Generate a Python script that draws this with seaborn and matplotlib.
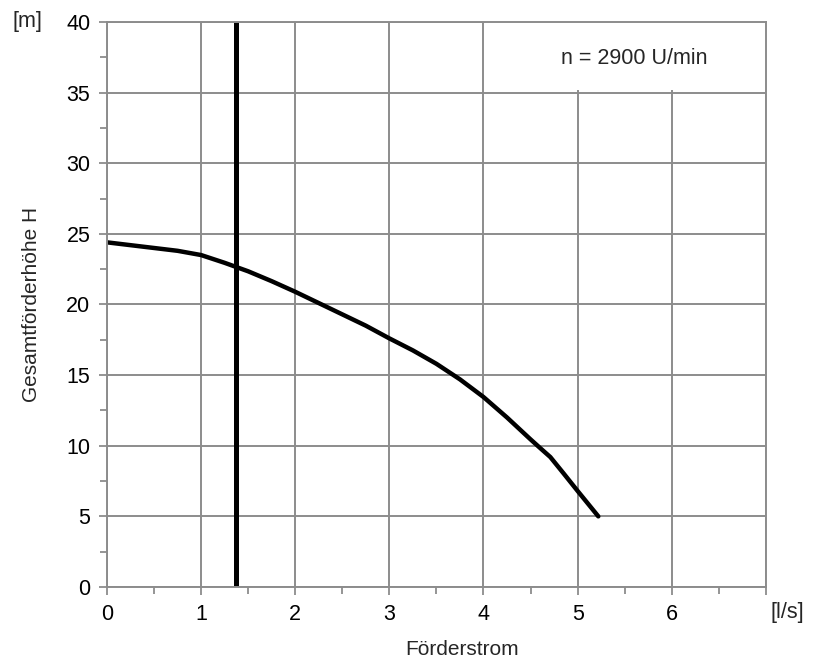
import matplotlib
matplotlib.use("Agg")
import matplotlib.pyplot as plt
import seaborn as sns
from matplotlib.patches import Rectangle
from matplotlib.ticker import MultipleLocator

# --- data ---
flow = [0.0, 0.25, 0.5, 0.75, 1.0, 1.25, 1.5, 1.75, 2.0, 2.25, 2.5, 2.75,
        3.0, 3.25, 3.5, 3.75, 4.0, 4.25, 4.5, 4.6, 4.71, 4.85, 5.0, 5.22]
head = [24.4, 24.2, 24.0, 23.8, 23.5, 22.95, 22.35, 21.65, 20.9, 20.1, 19.3, 18.5,
        17.6, 16.75, 15.8, 14.7, 13.45, 12.0, 10.45, 9.85, 9.2, 8.05, 6.8, 5.0]
operating_flow = 1.37
x_ticks = [0, 1, 2, 3, 4, 5, 6]
y_ticks = [0, 5, 10, 15, 20, 25, 30, 35, 40]
speed_label = "n = 2900 U/min"

sns.set_theme(style="white")
plt.rcParams["font.family"] = ["Liberation Sans", "DejaVu Sans"]

grid_col = "#8c8c8c"
fig = plt.figure(figsize=(8.26, 6.6), dpi=100)
ax = fig.add_axes([0.1295, 0.1106, 0.7977, 0.8561])

sns.lineplot(x=flow, y=head, color="black", linewidth=3.2, sort=False, ax=ax,
             solid_capstyle="round", solid_joinstyle="round")
ax.axvline(operating_flow, color="black", linewidth=3.6, solid_capstyle="round")

ax.set_xlim(0, 7)
ax.set_ylim(0, 40)
ax.set_xticks(range(0, 8))
ax.set_xticklabels([str(t) for t in x_ticks] + [""])
ax.set_yticks(y_ticks)
ax.set_yticklabels([str(t) for t in y_ticks])
ax.xaxis.set_minor_locator(MultipleLocator(0.5))
ax.yaxis.set_minor_locator(MultipleLocator(2.5))

ax.grid(True, which="major", color=grid_col, linewidth=1.4)
ax.set_axisbelow(True)
for side in ["left", "bottom", "top", "right"]:
    ax.spines[side].set_color(grid_col)
    ax.spines[side].set_linewidth(1.4)

ax.tick_params(axis="both", which="both", direction="out", color=grid_col,
               width=1.3, labelsize=15.5, labelcolor="black")
ax.tick_params(axis="both", which="major", length=6, pad=6)
ax.tick_params(axis="both", which="minor", length=5)
ax.tick_params(axis="x", which="both", bottom=True)
ax.tick_params(axis="y", which="both", left=True)

# white label box in the top-right cell block (hides the 5/6 gridlines there)
ax.add_patch(Rectangle((4.02, 35.15), 2.98, 4.85, facecolor="white",
                       edgecolor="none", zorder=0.8))

ax.set_xlabel("")
ax.set_ylabel("")
ax.text(-0.114, 0.5, "Gesamtförderhöhe H", transform=ax.transAxes, fontsize=15,
        rotation=90, ha="center", va="center")
ax.text(0.539, -0.111, "Förderstrom", transform=ax.transAxes, fontsize=15,
        ha="center", va="center")
ax.text(1.033, -0.046, "[l/s]", transform=ax.transAxes, fontsize=15.5,
        ha="center", va="center")
ax.text(-0.121, 1.0, "[m]", transform=ax.transAxes, fontsize=15.5,
        ha="center", va="center")
ax.text(0.801, 0.936, speed_label, transform=ax.transAxes, fontsize=15.5,
        ha="center", va="center", zorder=3)

fig.savefig("out.png", dpi=100)
